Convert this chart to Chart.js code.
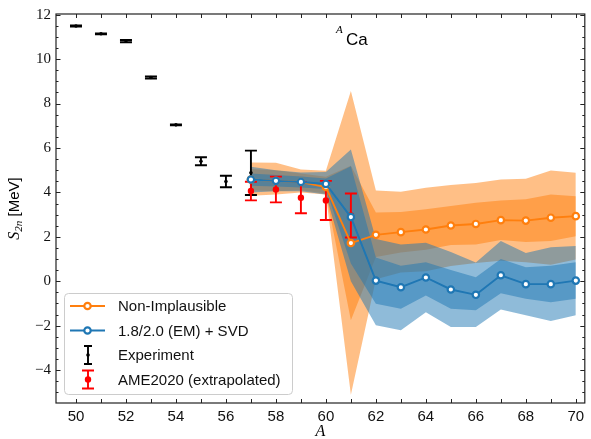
<!DOCTYPE html>
<html>
<head>
<meta charset="utf-8">
<script src="https://cdn.jsdelivr.net/npm/chart.js@4.4.0/dist/chart.umd.min.js"></script>
<style>
html, body { margin: 0; padding: 0; background: #fff; }
canvas { display: block; }
</style>
</head>
<body>
<canvas id="myChart" width="591" height="439"></canvas>
<script>
// values
const A_model = [57, 58, 59, 60, 61, 62, 63, 64, 65, 66, 67, 68, 69, 70];

const niMid   = [4.58, 4.52, 4.47, 4.24, 1.72, 2.09, 2.21, 2.33, 2.51, 2.58, 2.75, 2.73, 2.86, 2.93];
const niOutHi = [5.35, 5.33, 5.03, 4.97, 8.56, 4.09, 4.03, 4.21, 4.33, 4.42, 4.58, 4.61, 4.98, 4.88];
const niOutLo = [3.85, 3.90, 4.00, 3.90, -5.11, 0.09, 0.39, 0.45, 0.69, 0.82, 0.92, 0.85, 0.74, 0.98];
const niInHi  = [5.05, 5.00, 4.85, 4.70, 5.20, 3.09, 3.12, 3.24, 3.39, 3.53, 3.64, 3.69, 3.91, 3.83];
const niInLo  = [4.10, 4.05, 4.10, 3.95, -1.75, 1.09, 1.30, 1.42, 1.63, 1.65, 1.86, 1.77, 1.81, 2.03];

const emMid   = [4.58, 4.52, 4.47, 4.38, 2.89, 0.03, -0.27, 0.17, -0.37, -0.61, 0.27, -0.13, -0.13, 0.03];
const emOutHi = [5.15, 5.00, 4.90, 4.92, 5.93, 1.90, 1.66, 1.73, 1.32, 0.84, 1.81, 1.27, 1.53, 1.59];
const emOutLo = [4.00, 4.05, 4.05, 3.90, 0.00, -1.98, -2.20, -1.39, -2.06, -2.06, -1.27, -1.53, -1.79, -1.53];
const emInHi  = [4.85, 4.78, 4.72, 4.62, 5.18, 1.07, 0.70, 0.85, 0.51, 0.18, 1.00, 0.63, 0.70, 0.85];
const emInLo  = [4.30, 4.27, 4.22, 4.15, 0.80, -1.01, -1.24, -0.64, -1.24, -1.31, -0.54, -0.79, -0.94, -0.79];

const A_exp   = [50, 51, 52, 53, 54, 55, 56, 57];
const expS2n  = [11.49, 11.14, 10.81, 9.17, 7.04, 5.40, 4.49, 4.88];
const expErr  = [0.03, 0.02, 0.05, 0.05, 0.02, 0.18, 0.26, 1.00];

const A_ame   = [57, 58, 59, 60, 61];
const ameS2n  = [4.06, 4.13, 3.76, 3.64, 2.96];
const ameErr  = [0.42, 0.58, 0.70, 0.88, 0.99];

const xTicks = [50, 52, 54, 56, 58, 60, 62, 64, 66, 68, 70];
const yTicks = [-4, -2, 0, 2, 4, 6, 8, 10, 12];

const ORANGE = '#ff7f0e';
const BLUE = '#1f77b4';

function pts(xs, ys) {
    return xs.map((x, i) => ({ x: x, y: ys[i] }));
}

function edge(data, order) {
    return { data: data, showLine: true, borderWidth: 0, pointRadius: 0, fill: false, order: order };
}

function band(data, lowerIndex, color, order) {
    return { data: data, showLine: true, borderWidth: 0, pointRadius: 0,
             fill: lowerIndex, backgroundColor: color, order: order };
}

function curve(data, color, order) {
    return { data: data, showLine: true, borderColor: color, borderWidth: 1.9,
             pointRadius: 3.2, pointBorderWidth: 2.2, pointBackgroundColor: '#fff',
             pointBorderColor: color, fill: false, order: order };
}

const datasets = [
    edge(pts(A_model, niOutLo), 20),                                   // 0
    band(pts(A_model, niOutHi), 0, 'rgba(255,127,14,0.5)', 19),        // 1
    edge(pts(A_model, niInLo), 18),                                    // 2
    band(pts(A_model, niInHi), 2, 'rgba(255,127,14,0.5)', 17),         // 3
    edge(pts(A_model, emOutLo), 16),                                   // 4
    band(pts(A_model, emOutHi), 4, 'rgba(31,119,180,0.5)', 15),        // 5
    edge(pts(A_model, emInLo), 14),                                    // 6
    band(pts(A_model, emInHi), 6, 'rgba(31,119,180,0.5)', 13),         // 7
    curve(pts(A_model, niMid), ORANGE, 2),                             // 8
    curve(pts(A_model, emMid), BLUE, 1)                                // 9
];

function errorbars(ctx, xs, ys, xv, yv, ev, color, r, cap) {
    ctx.save();
    ctx.strokeStyle = color;
    ctx.fillStyle = color;
    ctx.lineWidth = 1.9;
    xv.forEach((a, i) => {
        const px = xs.getPixelForValue(a);
        const top = ys.getPixelForValue(yv[i] + ev[i]);
        const bot = ys.getPixelForValue(yv[i] - ev[i]);
        ctx.beginPath();
        ctx.moveTo(px, top); ctx.lineTo(px, bot);
        ctx.moveTo(px - cap, top); ctx.lineTo(px + cap, top);
        ctx.moveTo(px - cap, bot); ctx.lineTo(px + cap, bot);
        ctx.stroke();
        ctx.beginPath();
        ctx.arc(px, ys.getPixelForValue(yv[i]), r, 0, 2 * Math.PI);
        ctx.fill();
    });
    ctx.restore();
}

// ticks pointing inwards on all four sides, frame, titles, legend
const extras = {
    id: 'extras',
    beforeDatasetDraw(chart, args) {
        // error bars go above the bands but under the model curves
        if (args.index !== 8) return;
        const ctx = chart.ctx, xs = chart.scales.x, ys = chart.scales.y;
        errorbars(ctx, xs, ys, A_exp, expS2n, expErr, '#000', 1.8, 6);
        errorbars(ctx, xs, ys, A_ame, ameS2n, ameErr, '#ff0000', 3.2, 6);
    },
    afterDraw(chart) {
        const ctx = chart.ctx, xs = chart.scales.x, ys = chart.scales.y;
        const a = chart.chartArea;
        ctx.save();
        ctx.strokeStyle = '#222';
        ctx.lineWidth = 1;
        ctx.beginPath();
        for (let v = 50; v <= 70; v++) {
            const px = Math.round(xs.getPixelForValue(v)) + 0.5;
            ctx.moveTo(px, a.bottom); ctx.lineTo(px, a.bottom - 4);
            ctx.moveTo(px, a.top); ctx.lineTo(px, a.top + 4);
        }
        for (let v = -5; v <= 12; v += 0.5) {
            const py = Math.round(ys.getPixelForValue(v)) + 0.5;
            const len = (v % 2 === 0) ? 4.5 : 2.5;
            ctx.moveTo(a.left, py); ctx.lineTo(a.left + len, py);
            ctx.moveTo(a.right, py); ctx.lineTo(a.right - len, py);
        }
        ctx.stroke();
        ctx.lineWidth = 1.2;
        ctx.strokeRect(a.left, a.top, a.right - a.left, a.bottom - a.top);

        // title  ^A Ca
        ctx.fillStyle = '#000';
        ctx.textBaseline = 'alphabetic';
        ctx.textAlign = 'left';
        ctx.font = 'italic 11px "Liberation Serif"';
        ctx.fillText('A', 336, 33);
        ctx.font = '17px "Liberation Sans"';
        ctx.fillText('Ca', 346, 45);

        // x title
        ctx.textAlign = 'center';
        ctx.font = 'italic 16px "Liberation Serif"';
        ctx.fillText('A', (a.left + a.right) / 2, 436);

        // y title  S_2n [MeV]
        ctx.save();
        ctx.translate(19, (a.top + a.bottom) / 2);
        ctx.rotate(-Math.PI / 2);
        ctx.textAlign = 'left';
        const f1 = 'italic 16px "Liberation Serif"', f2 = 'italic 11px "Liberation Serif"', f3 = '15px "Liberation Sans"';
        ctx.font = f1; const w1 = ctx.measureText('S').width;
        ctx.font = f2; const w2 = ctx.measureText('2n').width;
        ctx.font = f3; const w3 = ctx.measureText(' [MeV]').width;
        let x0 = -(w1 + w2 + w3) / 2;
        ctx.font = f1; ctx.fillText('S', x0, 0); x0 += w1;
        ctx.font = f2; ctx.fillText('2n', x0, 3); x0 += w2;
        ctx.font = f3; ctx.fillText(' [MeV]', x0, 0);
        ctx.restore();

        // legend
        const lx = 64, ly = 293, lw = 228, lh = 101;
        ctx.beginPath();
        ctx.roundRect(lx + 0.5, ly + 0.5, lw, lh, 4);
        ctx.fillStyle = 'rgba(255,255,255,0.8)';
        ctx.fill();
        ctx.strokeStyle = '#cccccc';
        ctx.lineWidth = 1;
        ctx.stroke();

        const rows = [306, 330.5, 355, 379.5];
        const labels = ['Non-Implausible', '1.8/2.0 (EM) + SVD', 'Experiment', 'AME2020 (extrapolated)'];
        [ORANGE, BLUE].forEach((c, i) => {
            ctx.strokeStyle = c;
            ctx.lineWidth = 1.9;
            ctx.beginPath(); ctx.moveTo(70, rows[i]); ctx.lineTo(105, rows[i]); ctx.stroke();
            ctx.beginPath(); ctx.arc(87.5, rows[i], 3.2, 0, 2 * Math.PI);
            ctx.fillStyle = '#fff'; ctx.fill();
            ctx.lineWidth = 2.2; ctx.stroke();
        });
        [['#000', 1.8, 4], ['#ff0000', 3.2, 6]].forEach((s, k) => {
            const cy = rows[k + 2];
            ctx.strokeStyle = s[0]; ctx.fillStyle = s[0]; ctx.lineWidth = 1.9;
            ctx.beginPath();
            ctx.moveTo(88, cy - 9); ctx.lineTo(88, cy + 9);
            ctx.moveTo(88 - s[2], cy - 9); ctx.lineTo(88 + s[2], cy - 9);
            ctx.moveTo(88 - s[2], cy + 9); ctx.lineTo(88 + s[2], cy + 9);
            ctx.stroke();
            ctx.beginPath(); ctx.arc(88, cy, s[1], 0, 2 * Math.PI); ctx.fill();
        });
        ctx.fillStyle = '#111';
        ctx.font = '15px "Liberation Sans"';
        ctx.textAlign = 'left';
        ctx.textBaseline = 'middle';
        labels.forEach((t, i) => ctx.fillText(t, 118, rows[i] + 1));
        ctx.restore();
    }
};

let ctx = document.getElementById("myChart").getContext("2d");
let myChart = new Chart(ctx, {
    type: 'scatter',
    data: { datasets: datasets },
    options: {
        responsive: false,
        animation: false,
        devicePixelRatio: 1,
        layout: { padding: { top: 12, right: 4, left: 0, bottom: 0 } },
        plugins: { legend: { display: false }, tooltip: { enabled: false } },
        elements: { line: { tension: 0 } },
        scales: {
            x: {
                type: 'linear', min: 49.2, max: 70.36,
                grid: { display: false, drawTicks: false },
                border: { display: false },
                afterBuildTicks: (s) => { s.ticks = xTicks.map(v => ({ value: v })); },
                afterFit: (s) => { s.height = 36; },
                ticks: { autoSkip: false, maxRotation: 0, padding: 5, color: '#111',
                         font: { family: 'Liberation Sans', size: 15 } }
            },
            y: {
                type: 'linear', min: -5.48, max: 12.03,
                grid: { display: false, drawTicks: false },
                border: { display: false },
                afterBuildTicks: (s) => { s.ticks = yTicks.map(v => ({ value: v })); },
                afterFit: (s) => { s.width = 56; },
                ticks: { autoSkip: false, padding: 5, color: '#111',
                         font: { family: 'Liberation Serif', size: 15 },
                         callback: (v) => String(v).replace('-', '\u2212') }
            }
        }
    },
    plugins: [extras]
});
</script>
</body>
</html>
